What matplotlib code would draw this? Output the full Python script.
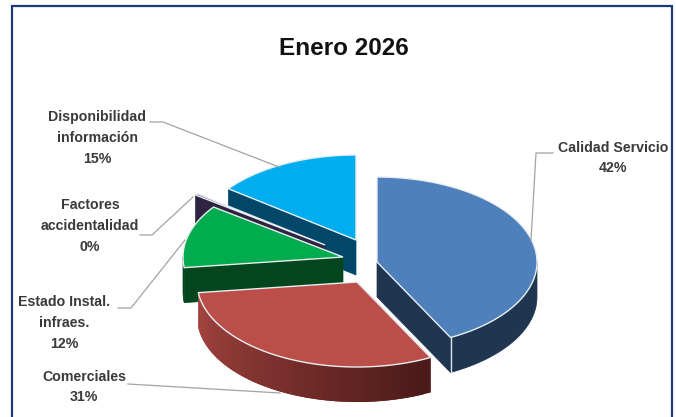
import numpy as np
import matplotlib
matplotlib.use("Agg")
import matplotlib.pyplot as plt
from matplotlib.patches import Polygon, Rectangle
from matplotlib.colors import to_rgb

categories = ["Calidad Servicio", "Comerciales", "Estado Instal.\ninfraes.",
              "Factores\naccidentalidad", "Disponibilidad\ninformación"]
values = [42.4, 30.6, 12.0, 0.3, 14.7]

top_colors = ["#4E80BC", "#BC4E49", "#00AC4D", "#3A2C52", "#00AEEF"]
wall_colors = ["#1F3550", "#A5443F", "#03461D", "#2E2340", "#00476A"]
wall_end = {1: "#4A1A18"}
explode_x = [17, -3, -17, -35, -4]
explode_y = [0, 20, -5, -17, -22]
CX, CY, RX, RY, DEPTH = 360, 262, 160, 85, 35
draw_order = [4, 3, 2, 1, 0]

label_xy = [(613, 158), (84, 387), (64, 323), (90, 226), (97, 138)]
leaders = [[(553, 153), (536, 153), (531, 240)],
           [(128, 384), (280, 393)],
           [(118, 308), (131, 308), (185, 240)],
           [(140, 235), (152, 235), (193, 197)],
           [(150, 122), (163, 122), (279, 167)]]

plt.rcParams["font.family"] = ["Liberation Sans", "DejaVu Sans"]
fig = plt.figure(figsize=(6.76, 4.17), dpi=100)
ax = fig.add_axes([0, 0, 1, 1])
ax.set_xlim(0, 676)
ax.set_ylim(417, 0)
ax.axis("off")
ax.add_patch(Rectangle((12, 6), 660, 430, fc="white", ec="#1F3A7A", lw=1.6, zorder=0))

shares = np.array(values) / sum(values) * 360
ends = np.cumsum(shares)
starts = ends - shares


def rim(a0, a1, cx, cy, dz=0, n=None):
    n = n or max(2, int(abs(a1 - a0)) + 2)
    t = np.radians(np.linspace(a0, a1, n))
    return np.column_stack([cx + RX * np.sin(t), cy - RY * np.cos(t) + dz])


z = 2
for i in draw_order:
    a0, a1 = starts[i], ends[i]
    cx, cy = CX + explode_x[i], CY + explode_y[i]
    cut = a1 if a1 <= 180 else a0
    p = rim(cut, cut, cx, cy, n=2)[0]
    ax.add_patch(Polygon([(cx, cy), p, (p[0], p[1] + DEPTH), (cx, cy + DEPTH)],
                         fc=wall_colors[i], ec=wall_colors[i], lw=0.5, zorder=z))
    w0, w1 = max(a0, 90), min(a1, 270)
    if w1 > w0:
        if i in wall_end:
            edges = np.linspace(w0, w1, 40)
            c0 = np.array(to_rgb(wall_colors[i]))
            c1 = np.array(to_rgb(wall_end[i]))
            for k in range(len(edges) - 1):
                f = 1 - (k / (len(edges) - 2))
                col = c0 + (c1 - c0) * f
                e1 = edges[min(k + 2, len(edges) - 1)]
                top = rim(edges[k], e1, cx, cy, n=4)
                bot = rim(edges[k], e1, cx, cy, DEPTH, n=4)[::-1]
                ax.add_patch(Polygon(np.vstack([top, bot]), fc=col, ec="none", zorder=z + k * 0.001))
        else:
            top = rim(w0, w1, cx, cy)
            bot = rim(w0, w1, cx, cy, DEPTH)[::-1]
            ax.add_patch(Polygon(np.vstack([top, bot]), fc=wall_colors[i], ec=wall_colors[i],
                                 lw=0.5, zorder=z))
    ax.add_patch(Polygon(np.vstack([[(cx, cy)], rim(a0, a1, cx, cy)]),
                         fc=top_colors[i], ec="#E8EEF2", lw=1.0, zorder=z + 0.5))
    if i == 0:
        p = rim(a1, a1, cx, cy, n=2)[0]
        ax.plot([p[0], p[0]], [p[1], p[1] + DEPTH], color="#DDE3EA", lw=1.0, zorder=z + 0.6)
    z += 1

for pts in leaders:
    xs, ys = zip(*pts)
    ax.plot(xs, ys, color="#A3A3A3", lw=0.9, zorder=20)

for name, v, (x, y) in zip(categories, values, label_xy):
    ax.text(x, y, f"{name}\n{round(v)}%", ha="center", va="center", fontsize=10.2,
            fontweight="bold", color="#3A3A3A", linespacing=1.62, zorder=21)

ax.text(344, 48, "Enero 2026", ha="center", va="center", fontsize=17.5,
        fontweight="bold", color="#111111", zorder=21)

fig.savefig("out.png", dpi=100)
